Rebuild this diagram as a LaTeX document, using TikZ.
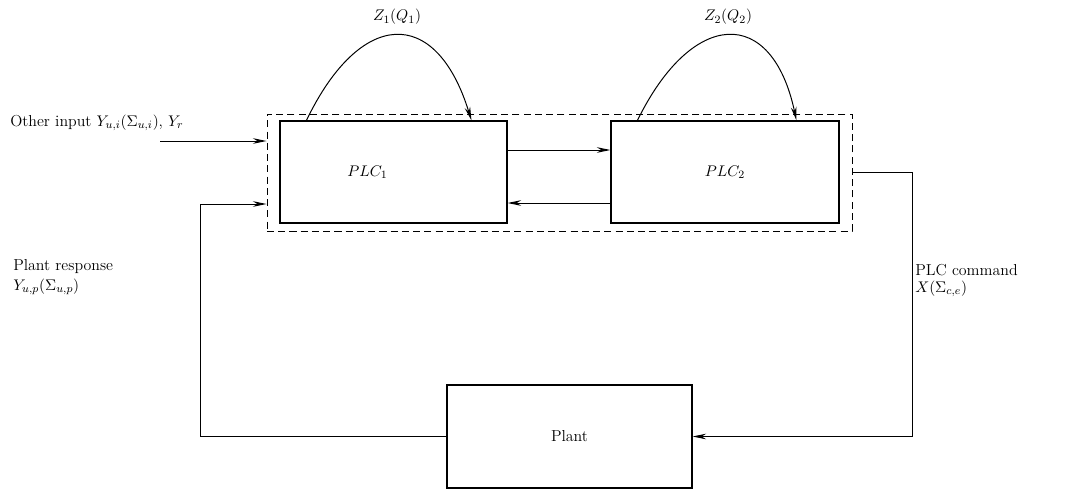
\documentclass[tikz,border=0pt]{standalone}
\usepackage{amsmath,amssymb}
\usepackage{tikz}
\usetikzlibrary{
	arrows.meta,
	calc,
	positioning
}

\tikzset{
	every node/.style = {font=\fontsize{11.3}{13.6}\selectfont},
	blk/.style = {draw, line width=0.8pt, minimum width=5.7cm, minimum height=2.55cm},
	grp/.style = {draw, line width=0.7pt, dash pattern=on 5pt off 3pt, minimum width=14.625cm, minimum height=2.925cm},
	sig/.style = {line width=0.7pt, -{Stealth[length=3.4mm,width=1.4mm]}},
	lbl/.style = {anchor=west, inner sep=0pt}
}

\begin{document}
\begin{tikzpicture}

	\useasboundingbox (0,0) rectangle (26.725,12.225);

	% controllers and plant
	\node[grp] (grp) at (13.9875, 7.9125) {};
	\node[blk, minimum width=5.675cm, label={[xshift=-0.65cm]center:$PLC_1$}] (plc1) at (9.8375, 7.925) {};
	\node[blk] (plc2) at (18.125, 7.925) {$PLC_2$};
	\node[blk, minimum width=6.125cm, minimum height=2.575cm] (plant) at (14.2375, 1.3125) {Plant};

	% self loops
	\draw[sig] ($(plc1.north west)+(0.675,0)$) .. controls (9.0,12.0) and (10.9,12.1) .. ($(plc1.north west)+(4.8,0)$);
	\node (z1) at (9.925, 11.8) {$Z_1(Q_1)$};
	\draw[sig] ($(plc2.north west)+(0.675,0)$) .. controls (17.3,12.0) and (19.3,12.1) .. ($(plc2.north west)+(4.65,0)$);
	\node (z2) at (18.2, 11.8) {$Z_2(Q_2)$};

	% links between the two PLCs
	\draw[sig] ($(plc1.east)+(0,0.55)$) -- ($(plc2.west)+(0,0.55)$);
	\draw[sig] ($(plc2.west)+(0,-0.775)$) -- ($(plc1.east)+(0,-0.775)$);

	% other input
	\coordinate (in) at (4.0, 8.7);
	\draw[sig] (in) -- (in -| grp.west);
	\node[lbl] (oin) at (0.25, 9.15) {Other input $Y_{u,i}(\Sigma_{u,i})$, $Y_r$};

	% plant response
	\coordinate (fb) at (5.0, 7.125);
	\draw[sig] (plant.west) -| (fb) -- (fb -| grp.west);
	\node[lbl] (pr) at (0.325, 5.55) {Plant response};
	\node[lbl] (yp) at (0.325, 5.05) {$Y_{u,p}(\Sigma_{u,p})$};

	% PLC command
	\draw[sig] (grp.east) -- ++(1.5,0) |- (plant.east);
	\node[lbl] (pc) at (22.875, 5.475) {PLC command};
	\node[lbl] (xc) at (22.875, 5.0) {$X(\Sigma_{c,e})$};

\end{tikzpicture}
\end{document}
